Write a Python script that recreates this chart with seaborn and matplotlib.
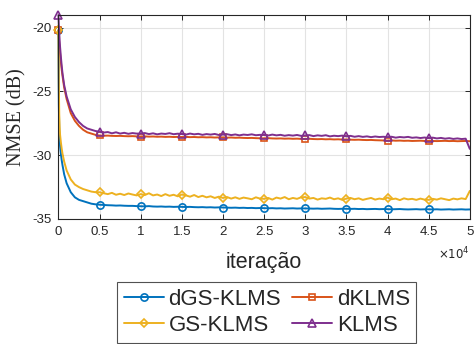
import matplotlib
matplotlib.use("Agg")
import matplotlib.pyplot as plt
import seaborn as sns
import pandas as pd
from matplotlib.ticker import FuncFormatter

# ---------------- data ----------------
iter_early = [0, 25, 50, 100, 150, 200, 300, 400, 500, 700, 1000, 1500,
              2000, 2500, 3000, 3500, 4000, 4500]
iter_tail = list(range(5000, 50001, 500))
iterations = iter_early + iter_tail

dgs_klms = [-20.2, -23.5, -26.0, -28.0, -28.8, -29.3, -29.9, -30.4, -30.8, -31.5,
            -32.2, -32.9, -33.3, -33.5, -33.6, -33.7, -33.8, -33.85,
            -33.88, -33.90, -33.92, -33.93, -33.95, -33.94, -33.96, -33.97, -33.97, -33.99,
            -34.00, -34.01, -33.99, -34.02, -34.03, -34.02, -34.04, -34.03, -34.05, -34.04,
            -34.05, -34.06, -34.05, -34.07, -34.08, -34.07, -34.09, -34.08, -34.10, -34.09,
            -34.10, -34.11, -34.12, -34.11, -34.13, -34.12, -34.14, -34.13, -34.15, -34.14,
            -34.15, -34.16, -34.15, -34.17, -34.16, -34.18, -34.17, -34.16, -34.18, -34.17,
            -34.17, -34.18, -34.19, -34.18, -34.20, -34.19, -34.18, -34.20, -34.21, -34.20,
            -34.20, -34.21, -34.20, -34.22, -34.21, -34.23, -34.22, -34.21, -34.23, -34.22,
            -34.23, -34.24, -34.23, -34.22, -34.24, -34.25, -34.24, -34.23, -34.25, -34.24,
            -34.24, -34.25, -34.24, -34.26, -34.25, -34.24, -34.26, -34.25, -34.24, -34.26,
            -34.25]

gs_klms = [-20.2, -22.5, -24.5, -26.8, -27.8, -28.4, -29.0, -29.5, -29.9, -30.5,
           -31.2, -31.9, -32.3, -32.5, -32.65, -32.75, -32.85, -32.9,
           -32.90, -32.98, -33.05, -32.95, -33.10, -33.02, -33.12, -33.00, -33.08, -33.15,
           -33.05, -33.12, -32.98, -33.15, -33.08, -33.20, -33.05, -33.18, -33.10, -33.22,
           -33.08, -33.15, -33.25, -33.12, -33.28, -33.18, -33.30, -33.22, -33.35, -33.25,
           -33.35, -33.28, -33.40, -33.30, -33.42, -33.32, -33.38, -33.45, -33.30, -33.40,
           -33.42, -33.35, -33.48, -33.32, -33.40, -33.28, -33.45, -33.35, -33.42, -33.30,
           -33.28, -33.40, -33.35, -33.48, -33.38, -33.42, -33.32, -33.45, -33.38, -33.50,
           -33.40, -33.35, -33.45, -33.38, -33.50, -33.42, -33.35, -33.48, -33.40, -33.45,
           -33.32, -33.45, -33.40, -33.52, -33.38, -33.46, -33.42, -33.50, -33.40, -33.48,
           -33.50, -33.42, -33.48, -33.38, -33.45, -33.52, -33.40, -33.46, -33.38, -33.44,
           -32.80]

dklms = [-20.2, -20.4, -20.7, -21.2, -21.6, -22.0, -22.7, -23.3, -23.8, -24.7,
         -25.6, -26.7, -27.3, -27.7, -28.0, -28.2, -28.3, -28.4,
         -28.45, -28.47, -28.46, -28.48, -28.49, -28.48, -28.50, -28.51, -28.50, -28.52,
         -28.53, -28.52, -28.54, -28.53, -28.55, -28.54, -28.56, -28.55, -28.57, -28.56,
         -28.57, -28.56, -28.58, -28.57, -28.59, -28.58, -28.60, -28.59, -28.61, -28.60,
         -28.60, -28.62, -28.61, -28.63, -28.62, -28.64, -28.65, -28.64, -28.66, -28.67,
         -28.67, -28.66, -28.68, -28.69, -28.68, -28.70, -28.69, -28.71, -28.70, -28.72,
         -28.72, -28.71, -28.73, -28.74, -28.73, -28.75, -28.74, -28.76, -28.75, -28.77,
         -28.76, -28.78, -28.79, -28.78, -28.80, -28.81, -28.80, -28.82, -28.83, -28.84,
         -28.85, -28.84, -28.86, -28.85, -28.87, -28.86, -28.88, -28.87, -28.86, -28.88,
         -28.87, -28.88, -28.89, -28.88, -28.87, -28.89, -28.88, -28.90, -28.89, -28.88,
         -28.90]

klms = [-19.0, -19.4, -19.8, -20.4, -21.0, -21.5, -22.3, -23.0, -23.6, -24.5,
        -25.4, -26.4, -27.0, -27.4, -27.7, -27.9, -28.0, -28.1,
        -28.15, -28.22, -28.18, -28.28, -28.20, -28.30, -28.24, -28.32, -28.26, -28.30,
        -28.30, -28.26, -28.34, -28.28, -28.36, -28.30, -28.33, -28.27, -28.35, -28.31,
        -28.33, -28.38, -28.30, -28.36, -28.32, -28.40, -28.34, -28.38, -28.33, -28.41,
        -28.38, -28.35, -28.42, -28.37, -28.44, -28.38, -28.41, -28.36, -28.43, -28.40,
        -28.40, -28.45, -28.38, -28.44, -28.40, -28.47, -28.42, -28.46, -28.41, -28.48,
        -28.45, -28.42, -28.50, -28.44, -28.48, -28.43, -28.52, -28.47, -28.50, -28.46,
        -28.52, -28.48, -28.55, -28.50, -28.56, -28.52, -28.58, -28.53, -28.57, -28.55,
        -28.58, -28.55, -28.62, -28.57, -28.60, -28.56, -28.63, -28.60, -28.65, -28.61,
        -28.65, -28.62, -28.68, -28.64, -28.70, -28.66, -28.72, -28.68, -28.73, -28.70,
        -29.50]

series_names = ["dGS-KLMS", "dKLMS", "GS-KLMS", "KLMS"]
series_values = [dgs_klms, dklms, gs_klms, klms]
xtick_values = [0, 5000, 10000, 15000, 20000, 25000, 30000, 35000, 40000, 45000, 50000]
ytick_values = [-35, -30, -25, -20]
x_label = "iteração"
y_label = "NMSE (dB)"

# ---------------- style ----------------
colors = ["#0072BD", "#D95319", "#EDB120", "#7E2F8E"]
markers = ["o", "s", "D", "^"]
msizes = [5.2, 4.6, 4.2, 5.6]

sns.set_style("ticks")
plt.rcParams["font.family"] = ["Liberation Sans", "DejaVu Sans"]
plt.rcParams["axes.unicode_minus"] = False

fig = plt.figure(figsize=(4.75, 3.44), dpi=100)
ax = fig.add_axes([0.123, 0.3634, 0.866, 0.5930])

mark_idx = [iterations.index(v) for v in xtick_values[:-1]]

for name, vals, c, m, ms in zip(series_names, series_values, colors, markers, msizes):
    df = pd.DataFrame({"iter": iterations, "nmse": vals})
    sns.lineplot(data=df, x="iter", y="nmse", ax=ax, color=c, lw=1.4,
                 marker=m, markevery=mark_idx, markersize=ms,
                 markerfacecolor="none", markeredgecolor=c, markeredgewidth=1.2,
                 label=name, estimator=None, sort=False, clip_on=False)

ax.set_xlim(0, 50000)
ax.set_ylim(-35, -19)
ax.set_xticks(xtick_values)
ax.set_yticks(ytick_values)
ax.xaxis.set_major_formatter(FuncFormatter(lambda v, p: f"{v/1e4:g}"))
ax.tick_params(direction="in", top=True, right=True, length=3.5, width=0.7,
               labelsize=9.5, colors="#262626", pad=5)
ax.grid(True, color="#e3e3e3", lw=0.8)
ax.set_axisbelow(True)
for sp in ax.spines.values():
    sp.set_color("#262626")
    sp.set_linewidth(0.8)

ax.set_ylabel(y_label, family=["Liberation Serif", "DejaVu Serif"], fontsize=14.5,
              labelpad=4)
ax.set_xlabel(x_label, fontsize=15.5, labelpad=10)
ax.text(1.0, -0.17, r"$\times10^{4}$", transform=ax.transAxes, ha="right",
        va="center", fontsize=8.5, color="#262626")

handles, labels = ax.get_legend_handles_labels()
ax.get_legend().remove()
order = [0, 2, 1, 3]  # row-wise: dGS-KLMS, dKLMS / GS-KLMS, KLMS
leg = fig.legend([handles[i] for i in order], [labels[i] for i in order],
                 loc="lower center", bbox_to_anchor=(0.562, 0.0),
                 ncol=2, fontsize=16, frameon=True, fancybox=False,
                 edgecolor="#262626", handlelength=1.8, handletextpad=0.2,
                 columnspacing=0.5, borderpad=0.3, labelspacing=0.25,
                 borderaxespad=0.05, numpoints=1)
leg.get_frame().set_linewidth(0.8)

fig.savefig("out.png", dpi=100)
